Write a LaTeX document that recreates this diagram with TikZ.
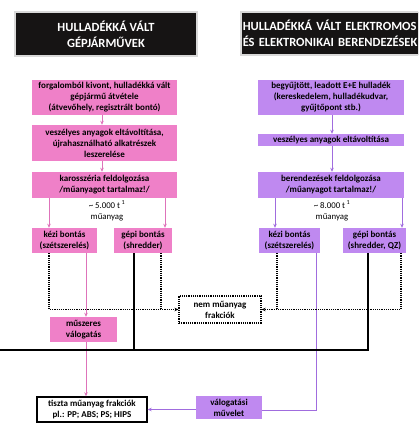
\documentclass[tikz,border=0pt]{standalone}
\usepackage{fontspec}
\setmainfont{Carlito}
\usetikzlibrary{arrows.meta}
\definecolor{pinkfill}{RGB}{239,128,200}
\definecolor{pinkline}{RGB}{222,115,186}
\definecolor{purplefill}{RGB}{191,137,240}
\definecolor{purpleline}{RGB}{160,108,222}
\definecolor{hdr}{RGB}{22,20,20}
\begin{document}
\begin{tikzpicture}[x=1pt,y=-1pt,
  box/.style={inner sep=0pt, align=center, font=\fontsize{9}{11}\selectfont\bfseries, text=black},
  pbox/.style={box, fill=pinkfill},
  vbox/.style={box, fill=purplefill},
  hbox/.style={fill=hdr, draw=gray!30, line width=1.5pt, inner sep=0pt, text=white, font=\fontsize{12.5}{16}\selectfont\bfseries},
  tip/.style={-{Stealth[length=4pt,width=3.5pt]}},
  pline/.style={draw=pinkline, line width=0.9pt},
  vline/.style={draw=purpleline, line width=0.9pt},
  dline/.style={draw=black, line width=1.2pt, densely dotted},
  bline/.style={draw=black, line width=1.8pt},
  note/.style={inner sep=0pt, font=\fontsize{8.8}{11}\selectfont, align=center}]
\useasboundingbox (0,0) rectangle (418,435);
\clip (0,0) rectangle (418,435);
\fill[white] (0,0) rectangle (418,435);

% headers
\node[hbox, minimum width=182pt, minimum height=44pt, align=center] (h1) at (106,34) {HULLADÉKKÁ VÁLT\\GÉPJÁRMŰVEK};
\node[hbox, minimum width=190pt, minimum height=43pt, anchor=west, align=left, text width=186pt, inner xsep=2pt] (h2) at (240,33.5) {HULLADÉKKÁ VÁLT ELEKTROMOS\\ÉS ELEKTRONIKAI BERENDEZÉSEK};

% left column
\node[pbox, minimum width=145pt, minimum height=35pt] (a1) at (104.5,97.5) {forgalomból kivont, hulladékká vált\\gépjármű átvétele\\(átvevőhely, regisztrált bontó)};
\node[pbox, minimum width=145pt, minimum height=36pt] (a2) at (104.5,143) {veszélyes anyagok eltávoltítása,\\újrahasználható alkatrészek\\leszerelése};
\node[pbox, minimum width=145pt, minimum height=26pt] (a3) at (104.5,185) {karosszéria feldolgozása\\/műanyagot tartalmaz!/};
\node[note] (n1) at (107,211) {\textasciitilde{} 5.000 t\,\textsuperscript{1}\\műanyag};
\node[pbox, minimum width=65pt, minimum height=25pt] (b1) at (64.5,240.5) {kézi bontás\\(szétszerelés)};
\node[pbox, minimum width=58pt, minimum height=25pt] (b2) at (143,240.5) {gépi bontás\\(shredder)};
\node[pbox, minimum width=67pt, minimum height=25pt] (c1) at (83.5,329.5) {műszeres\\válogatás};
\node[box, fill=white, draw=black, line width=1.4pt, minimum width=110pt, minimum height=25pt] (t) at (92,409.5) {tiszta műanyag frakciók\\pl.: PP; ABS; PS; HIPS};

% right column
\node[vbox, minimum width=146pt, minimum height=35pt] (d1) at (331,97.5) {begyűjtött, leadott E+E hulladék\\(kereskedelem, hulladékudvar,\\gyűjtőpont stb.)};
\node[vbox, minimum width=146pt, minimum height=12pt] (d2) at (331,140) {veszélyes anyagok eltávoltítása};
\node[vbox, minimum width=146pt, minimum height=26pt] (d3) at (331,185) {berendezések feldolgozása\\/műanyagot tartalmaz!/};
\node[note] (n2) at (332,211) {\textasciitilde{} 8.000 t\,\textsuperscript{1}\\műanyag};
\node[vbox, minimum width=61pt, minimum height=25pt] (e1) at (289.5,240.5) {kézi bontás\\(szétszerelés)};
\node[vbox, minimum width=63pt, minimum height=25pt] (e2) at (374.5,240.5) {gépi bontás\\(shredder, QZ)};
\node[vbox, minimum width=66pt, minimum height=23pt] (f1) at (229,407.5) {válogatási\\művelet};

% middle
\node[box, draw=black, line width=1.2pt, densely dotted, minimum width=82pt, minimum height=27pt] (nem) at (220,309.5) {nem műanyag\\frakciók};

% coordinates
\coordinate (jl) at (161,309.5);
\coordinate (jr) at (277,309.5);
\coordinate (bl) at (0,350);
\coordinate (bm) at (134,350);
\coordinate (br) at (368,350);
\coordinate (vr) at (316,410);

% left connectors
\draw[pline, tip] (a1.south -| 102,0) -- (a2.north -| 102,0);
\draw[pline, tip] (a2.south -| 102,0) -- (a3.north -| 102,0);
\draw[pline, tip] (a3.south -| 49,0) -- (b1.north -| 49,0);
\draw[pline, tip] (a3.south -| 165,0) -- (b2.north -| 165,0);
\draw[pline, tip] (b1.south -| 86,0) -- (c1.north -| 86,0);
\draw[pline, tip] (c1.south -| 86,0) -- (t.north -| 86,0);

% right connectors
\draw[vline, tip] (d1.south -| 332,0) -- (d2.north -| 332,0);
\draw[vline, tip] (d2.south -| 332,0) -- (d3.north -| 332,0);
\draw[vline, tip] (d3.south -| 275,0) -- (e1.north -| 275,0);
\draw[vline, tip] (d3.south -| 402,0) -- (e2.north -| 402,0);
\draw[vline] (e1.south -| vr) -- (vr) -- (f1.east |- vr);
\draw[vline, tip] (f1.west |- t.east) -- (t.east);

% dotted connectors
\draw[dline, tip] (b1.south -| 49,0) |- (nem.west);
\draw[dline] (b2.south -| jl) -- (jl);
\draw[dline, tip] (e2.south -| 401,0) |- (nem.east);
\draw[dline] (e1.south -| jr) -- (jr);

% black lines
\draw[bline] (b2.south -| bm) -- (bm);
\draw[bline] (e2.south -| br) -- (br) -- (bl);
\end{tikzpicture}
\end{document}
